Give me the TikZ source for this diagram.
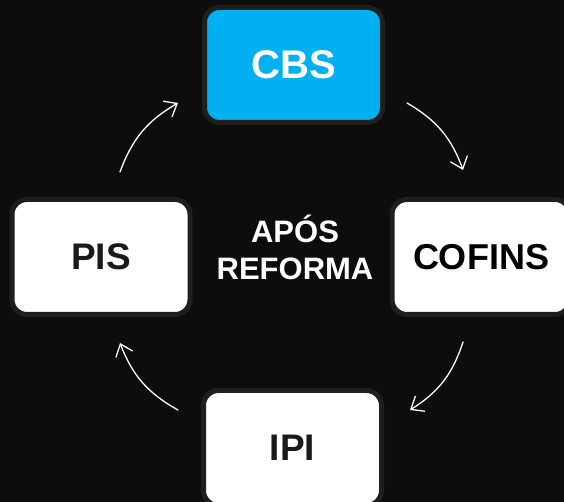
\documentclass[tikz,border=0pt]{standalone}
\usepackage{fontspec}
\setmainfont{Liberation Sans}
\usetikzlibrary{arrows.meta}
\definecolor{bgdark}{HTML}{0D0D0D}
\definecolor{rimgray}{HTML}{1F1F1F}
\definecolor{cbsblue}{HTML}{00B0F0}
\definecolor{inkdark}{HTML}{1A1A1A}

\begin{document}
\begin{tikzpicture}[x=1pt,y=1pt,
    taxbox/.style={draw=rimgray, line width=5pt, rounded corners=15pt,
        minimum width=178pt, minimum height=115pt, inner sep=0pt},
    taxlabel/.style={font=\fontsize{#1}{#1}\selectfont\bfseries},
    flow/.style={draw=white, line width=1.3pt, line cap=round,
        -{Straight Barb[length=11pt,width=18pt]}, bend left=20}]
        \fill[bgdark] (0,0) rectangle (564,502);
        \useasboundingbox (0,0) rectangle (564,502);
        \clip (0,0) rectangle (564,502);

        % the four boxes
        \node[taxbox, fill=cbsblue, taxlabel=40, text=white] (cbs) at (293.5,437) {CBS};
        \node[taxbox, fill=white, taxlabel=36, text=black] (cofins) at (481,245) {COFINS};
        \node[taxbox, fill=white, taxlabel=37, text=inkdark] (pis) at (101,245) {PIS};
        \node[taxbox, fill=white, taxlabel=37, text=inkdark] (ipi) at (292.5,54) {IPI};

        \node[font=\fontsize{31}{37}\selectfont\bfseries, text=white, align=center] (after) at (295,255) {APÓS\\REFORMA};

        % curved arrows round the cycle
        \coordinate (a1) at (407,399);
        \coordinate (b1) at (463,332);
        \coordinate (a2) at (463,160);
        \coordinate (b2) at (410,92);
        \coordinate (a3) at (178,92);
        \coordinate (b3) at (120,159);
        \coordinate (a4) at (120,330);
        \coordinate (b4) at (178,399);
        \draw[flow] (a1) to (b1);
        \draw[flow] (a2) to (b2);
        \draw[flow] (a3) to (b3);
        \draw[flow] (a4) to (b4);
\end{tikzpicture}
\end{document}
